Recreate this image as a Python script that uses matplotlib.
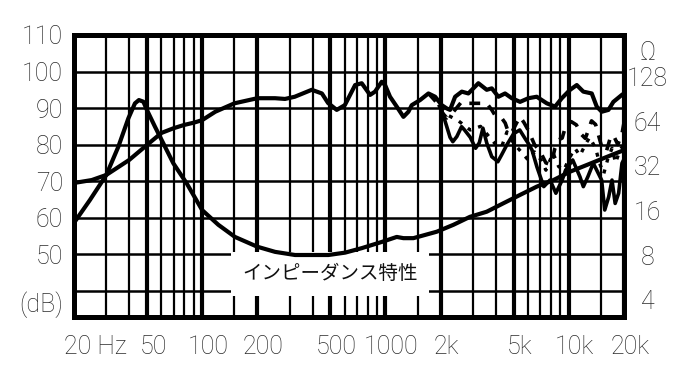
import matplotlib
matplotlib.use("Agg")
import matplotlib.pyplot as plt
import matplotlib.transforms as mtransforms
from matplotlib.ticker import NullLocator, NullFormatter

# ---------------- data ----------------
x_major = [20, 50, 100, 200, 500, 1000, 2000, 5000, 10000, 20000]
x_major_labels = ["20 Hz", "50", "100", "200", "500", "1000", "2k", "5k", "10k", "20k"]
x_minor = [30, 40, 60, 70, 80, 90, 150, 300, 400, 600, 700, 800, 900,
           1500, 3000, 4000, 6000, 7000, 8000, 9000, 15000]
y_grid = [40, 50, 60, 70, 80, 90, 100]
y_label_pos = [110, 100, 90, 80, 70, 60, 50, 37]
y_labels = ["110", "100", "90", "80", "70", "60", "50", "(dB)"]
z_ticks = [4, 8, 16, 32, 64, 128]
z_labels = ["4", "8", "16", "32", "64", "128"]

# on-axis SPL (dB)
spl_f = [20, 25, 30, 40, 50, 60, 70, 80, 90, 100, 118, 150, 200, 250, 283, 320, 396,
         450, 486, 542, 600, 683, 742, 824, 877, 954, 995, 1059, 1152, 1253, 1334,
         1391, 1545, 1715, 1866, 2028, 2159, 2250, 2398, 2608, 2832, 3211, 3567,
         3800, 4130, 4490, 4885, 5422, 6020, 6683, 7584, 8414, 9160, 10166, 11050,
         12000, 13340, 14200, 15130, 16450, 17500, 19460, 20000]
spl_db = [69.5, 70.3, 71.7, 75.8, 79.9, 83.2, 84.5, 85.4, 86.0, 86.7, 89.0, 91.3, 92.7,
          92.7, 92.5, 93.1, 95.0, 94.0, 91.4, 89.5, 90.8, 96.3, 96.8, 93.6, 94.5, 97.2,
          96.3, 93.1, 90.4, 87.6, 89.0, 90.8, 92.2, 94.0, 93.1, 90.8, 89.9, 89.5, 93.1,
          94.5, 94.0, 96.8, 95.0, 95.4, 93.1, 94.0, 92.7, 91.7, 92.7, 93.1, 91.3, 90.4,
          92.7, 95.0, 96.3, 94.5, 94.0, 90.4, 89.0, 89.5, 91.7, 93.6, 94.0]

# off-axis responses (dB)
off30_f = [1715, 1850, 1970, 2050, 2160, 2350, 2600, 2830, 3100, 3570, 3800, 3950, 4300,
           4500, 4700, 4900, 5200, 5420, 5700, 6000, 6500, 7000, 7500, 8000, 8400, 8800,
           9200, 9600, 10300, 11000, 11600, 12300, 12800, 13300, 14000, 15000, 16000,
           16800, 17500, 18500, 19500, 20000]
off30_db = [94.0, 92.2, 90.5, 88.6, 87.3, 89.0, 91.7, 91.3, 91.3, 91.3, 89.5, 88.1, 87.3,
            85.9, 83.1, 83.5, 86.0, 87.6, 86.0, 84.0, 80.0, 78.0, 75.0, 74.5, 79.0, 81.3,
            81.8, 84.9, 86.3, 85.4, 83.0, 81.7, 84.0, 86.5, 85.5, 80.0, 78.0, 81.7, 82.6,
            80.0, 83.0, 86.0]

off45_f = [2000, 2200, 2500, 2900, 3300, 3700, 4000, 4300, 4600, 5000, 5500, 6000, 6500,
           7000, 7500, 8200, 8800, 9400, 10000, 10800, 11500, 12300, 13000, 14000, 14700,
           15500, 16300, 17200, 18000, 19000, 20000]
off45_db = [90.0, 88.0, 86.5, 84.0, 85.0, 82.0, 80.0, 79.4, 83.5, 80.4, 78.0, 75.8, 78.0,
            76.0, 73.0, 77.7, 74.0, 73.0, 76.0, 79.0, 77.0, 80.0, 82.0, 79.0, 75.0, 72.0,
            76.0, 79.0, 75.0, 78.5, 80.0]

off60_f = [1970, 2050, 2160, 2250, 2330, 2450, 2600, 2700, 2900, 3100, 3250, 3400, 3570,
           3800, 4000, 4100, 4300, 4600, 5000, 5400, 5800, 6000, 6300, 6700, 7300, 7900,
           8500, 9200, 9600, 10500, 11500, 12000, 12700, 13600, 15100, 15700, 16500,
           17200, 17900, 18700, 19500, 20000]
off60_db = [90.5, 88.6, 84.9, 82.0, 80.8, 82.2, 84.9, 84.0, 82.0, 79.0, 80.5, 84.5, 80.4,
            76.7, 75.8, 75.3, 77.2, 80.0, 83.0, 84.0, 81.5, 80.4, 78.5, 73.9, 68.5, 70.3,
            66.7, 70.3, 73.0, 75.8, 71.2, 68.5, 71.2, 74.9, 70.3, 62.1, 65.7, 70.3, 63.9,
            66.7, 74.9, 76.0]

# impedance (ohm)
imp_f = [20, 24.4, 30, 34.9, 39.6, 43.0, 45.2, 47.8, 50, 55.3, 58.9, 69.6, 82.4, 100,
         122.6, 151, 200, 250, 321, 396, 488, 602, 742, 953, 1152, 1253, 1420, 1905,
         2346, 2891, 3567, 4394, 5422, 6683, 8240, 10166, 12530, 15450, 20000]
imp_ohm = [13.2, 18.8, 27.8, 43.2, 67.3, 84.9, 89.4, 87.1, 76.5, 59.0, 50.5, 33.4, 24.4,
           16.1, 12.8, 10.6, 9.1, 8.4, 8.0, 8.0, 8.0, 8.3, 8.9, 9.8, 10.6, 10.4, 10.4,
           11.5, 12.8, 14.5, 15.7, 17.9, 20.4, 23.2, 25.7, 29.3, 32.5, 36.1, 41.0]

caption = "インピーダンス特性"

# ---------------- figure ----------------
W, H = 687, 384
fig = plt.figure(figsize=(W / 100, H / 100), dpi=100)
ax = fig.add_axes([74 / W, 67.3 / H, 550 / W, 281.7 / H])
ax.set_xscale("log")
ax.set_xlim(20, 20000)
ax.set_ylim(32.9, 110)

lab_font = ["Roboto", "Liberation Sans", "DejaVu Sans"]
lab_kw = dict(fontsize=18, family=lab_font, weight="light", color="#2a2a2a")

# grids
ax.set_xticks(x_major)
ax.set_xticks(x_minor, minor=True)
ax.xaxis.set_minor_formatter(NullFormatter())
ax.set_xticklabels(x_major_labels, **lab_kw)
ax.set_yticks(y_label_pos)
ax.set_yticklabels(y_labels, **lab_kw)
ax.yaxis.set_minor_locator(NullLocator())
ax.grid(which="major", axis="x", color="black", lw=3.0, zorder=1)
ax.grid(which="minor", axis="x", color="black", lw=1.6, zorder=1)
for g in y_grid:
    ax.axhline(g, color="black", lw=1.8, zorder=1)
ax.tick_params(which="both", length=0)
ax.tick_params(axis="y", pad=8)
ax.tick_params(axis="x", pad=13)
for s in ax.spines.values():
    s.set_linewidth(3.6)
    s.set_zorder(6)

# x tick label nudges
for i, t in enumerate(ax.get_xticklabels()):
    if i == 0:
        t.set_horizontalalignment("left")
        t.set_transform(t.get_transform() + mtransforms.ScaledTranslation(-10 / 100, 0, fig.dpi_scale_trans))
    else:
        t.set_transform(t.get_transform() + mtransforms.ScaledTranslation(6 / 100, 0, fig.dpi_scale_trans))

lw = 3.0
ax.plot(spl_f, spl_db, color="black", lw=lw, solid_joinstyle="round", solid_capstyle="round", zorder=4)
ax.plot(off30_f, off30_db, color="black", lw=2.6, ls=(0, (3.0, 2.6)), zorder=4)
ax.plot(off45_f, off45_db, color="black", lw=2.4, ls=(0, (1.2, 2.2)), zorder=4)
ax.plot(off60_f, off60_db, color="black", lw=2.6, solid_joinstyle="round", zorder=4)

# impedance axis
ax2 = ax.twinx()
ax2.set_yscale("log", base=2)
ax2.set_ylim(3.06, 246.2)
ax2.plot(imp_f, imp_ohm, color="black", lw=lw, solid_joinstyle="round", solid_capstyle="round", zorder=4)
ax2.set_yticks(z_ticks)
ax2.set_yticklabels(z_labels, **lab_kw)
ax2.yaxis.set_minor_locator(NullLocator())
ax2.tick_params(axis="y", which="both", length=0, pad=17)
for t in ax2.get_yticklabels():
    t.set_horizontalalignment("center")
for s in ax2.spines.values():
    s.set_linewidth(3.6)

fig.text(648 / W, 1 - 53 / H, "Ω", ha="center", va="center", **lab_kw)

ax.text(500, 44.6, caption, fontsize=14, family=["Noto Sans CJK JP", "DejaVu Sans"],
        ha="center", va="center", color="#111111", zorder=7,
        bbox=dict(facecolor="white", edgecolor="none", pad=8))

fig.savefig("out.png", dpi=100)
